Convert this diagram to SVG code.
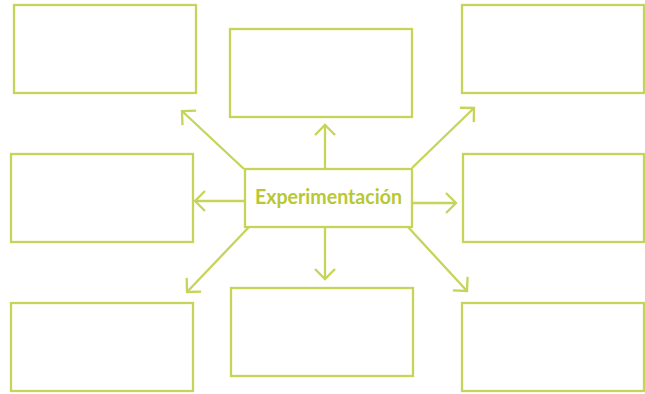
<svg xmlns="http://www.w3.org/2000/svg" width="645" height="394" viewBox="0 0 645 394">
<style>
.box{fill:#fff;stroke:#c6d45a;stroke-width:2.3}
.con{stroke:#c6d45a;stroke-width:2.3;fill:none;marker-end:url(#ah)}
.lbl{font-family:Lato,"Open Sans","Liberation Sans",sans-serif;font-weight:bold;font-size:20px;fill:#b7c833}
</style>
<defs>
<marker id="ah" markerUnits="userSpaceOnUse" viewBox="-12 -12 14 24" markerWidth="14" markerHeight="24" refX="0" refY="0" orient="auto" overflow="visible">
<path d="M-10,-10 L0,0 L-10,10" fill="none" stroke="#c6d45a" stroke-width="2.3"/>
</marker>
</defs>
<rect width="645" height="394" fill="#fff"/>
<g id="connectors">
<path class="con" d="M325,169 L325,125"/>
<path class="con" d="M325,227 L325,279"/>
<path class="con" d="M245,201 L195,201"/>
<path class="con" d="M412,203 L456,203"/>
<path class="con" d="M244,169 L182,111"/>
<path class="con" d="M412,168 L474,108"/>
<path class="con" d="M249,227 L187,292"/>
<path class="con" d="M408,227 L467,291"/>
</g>
<g id="n-top-left"><rect class="box" x="14" y="5" width="182" height="88"/></g>
<g id="n-top-center"><rect class="box" x="230" y="29" width="182" height="88"/></g>
<g id="n-top-right"><rect class="box" x="462" y="5" width="182" height="88"/></g>
<g id="n-mid-left"><rect class="box" x="11" y="154" width="182" height="88"/></g>
<g id="n-mid-right"><rect class="box" x="463" y="154" width="181" height="88"/></g>
<g id="n-bot-left"><rect class="box" x="11" y="303" width="182" height="88"/></g>
<g id="n-bot-center"><rect class="box" x="231" y="288" width="182" height="88"/></g>
<g id="n-bot-right"><rect class="box" x="462" y="303" width="182" height="88"/></g>
<g id="n-center">
<rect class="box" x="245" y="169" width="167" height="58"/>
<text class="lbl" x="255" y="204" textLength="147" lengthAdjust="spacingAndGlyphs">Experimentación</text>
</g>
</svg>
